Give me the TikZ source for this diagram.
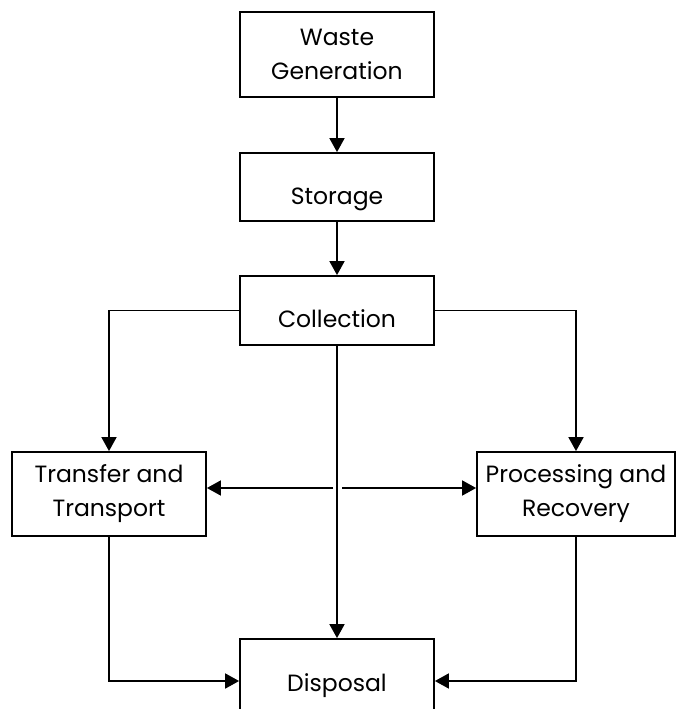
\documentclass[tikz,border=0pt]{standalone}
\usepackage{fontspec}
\setmainfont{Poppins}
\usetikzlibrary{arrows.meta,positioning}
\tikzset{stagebox/.style={draw=black,line width=1.8pt,fill=white,align=center,minimum width=194pt,font=\fontsize{23.5}{34}\selectfont},
  onebox/.style={stagebox,text height=34pt,text depth=0pt},
  flowline/.style={line width=1.8pt,-{Triangle[length=14pt,width=15pt]}}}
\begin{document}
\begin{tikzpicture}[x=1pt,y=-1pt]
\useasboundingbox (0,0) rectangle (686,709);
% boxes
\node[stagebox,minimum height=85pt] (gen) at (337,54.5) {Waste\\Generation};
\node[onebox,minimum height=68pt] (stor) at (337,187) {Storage};
\node[onebox,minimum height=69pt] (coll) at (337,310.5) {Collection};
\node[stagebox,minimum height=84pt] (trans) at (109,494) {Transfer and\\Transport};
\node[stagebox,minimum height=84pt,minimum width=198pt] (proc) at (576,494) {Processing and\\Recovery};
\node[onebox,text height=20pt,minimum height=84pt] (disp) at (337,681) {Disposal};
% connectors
\draw[flowline] (gen) -- (stor);
\draw[flowline] (stor) -- (coll);
\draw[flowline] (coll.west) -| (trans.north);
\draw[flowline] (coll.east) -| (proc.north);
\draw[flowline] (coll) -- (disp);
\coordinate (midL) at (333,488);
\coordinate (midR) at (342,488);
\draw[flowline] (midL) -- (trans.east |- midL);
\draw[flowline] (midR) -- (proc.west |- midR);
\draw[flowline] (trans.south) |- (disp.west);
\draw[flowline] (proc.south) |- (disp.east);
\end{tikzpicture}
\end{document}
